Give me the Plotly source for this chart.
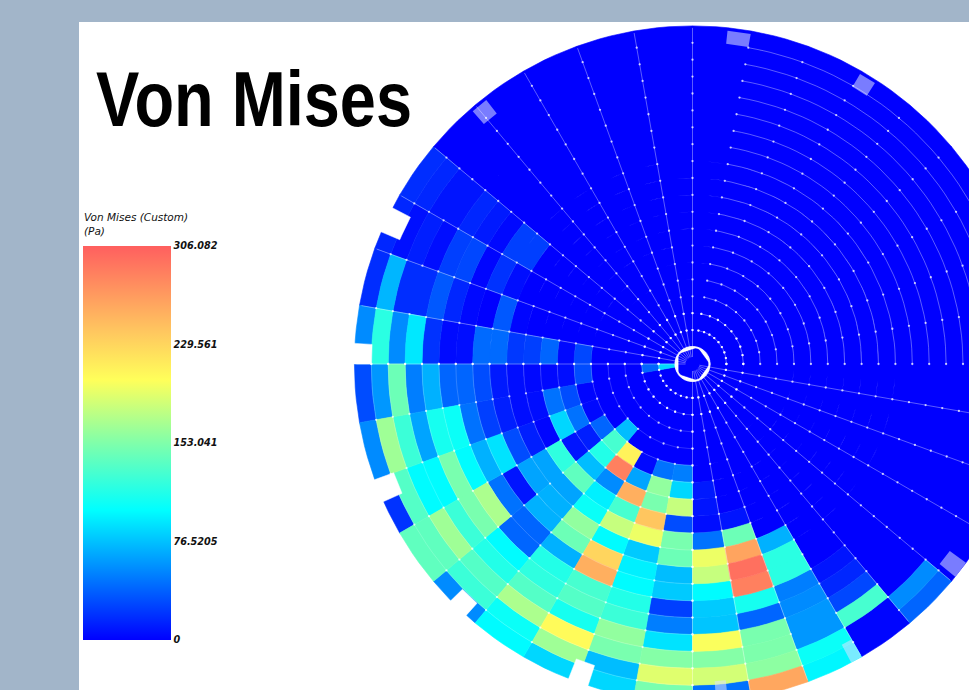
import math
import plotly.graph_objects as go
from plotly.colors import sample_colorscale

TITLE = "Von Mises"
BAR_TITLE = "Von Mises (Custom)<br>(Pa)"
TICK_VALUES = [0, 76.5205, 153.041, 229.561, 306.082]
TICK_LABELS = ["0", "76.5205", "153.041", "229.561", "306.082"]
VMAX = 306.082

COLORSCALE = [
    [0.0, "rgb(0,0,255)"], [0.33, "rgb(0,255,255)"], [0.5, "rgb(128,255,170)"],
    [0.66, "rgb(255,255,90)"], [0.78, "rgb(255,200,95)"], [1.0, "rgb(255,95,95)"],
]

RING_EDGES = [17, 33.9, 50.8, 67.7, 84.6, 101.5, 118.4, 135.3, 152.2, 169.1, 186,
              202.9, 219.8, 236.7, 253.6, 270.5, 287.4, 304.3, 321.2, 338.1]
WEDGE_STEP = 10
BLUE = [0] * 19

# von Mises value of each cell, inner ring to outer ring, by wedge start angle
W140 = [0, 0, 0, 0, 0, 0, 0, 0, 0, 0, 25, 25, 3, 10, 15, 8, 8, 15, 18]
W150 = [0, 0, 0, 0, 0, 0, 0, 0, 0, 0, 5, 20, 2, 28, 25, 5, 12, 6, 15]
W160 = [0, 0, 0, 0, 0, 0, 0, 0, 0, 2, 35, 0, 3, 15, 35, 18, 18, 72, 18]
W170 = [0, 0, 0, 0, 0, 28, 3, 40, 25, 22, 42, 42, 5, 4, 20, 92, 55, 118, 55]
W180 = [85, 40, 0, 0, 0, 30, 5, 3, 3, 5, 10, 30, 40, 40, 70, 50, 145, 60, 30]
W190 = [0, 0, 0, 0, 0, 2, 30, 45, 5, 5, 12, 25, 45, 105, 110, 65, 125, 165, 55]
W200 = [0, 0, 0, 0, 0, 3, 45, 85, 2, 12, 30, 90, 70, 100, 150, 100, 100, 135, 20]
W210 = [0, 0, 0, 0, 0, 40, 12, 8, 120, 65, 65, 8, 45, 170, 150, 125, 165, 140, 140]
W220 = [0, 0, 0, 0, 75, 130, 115, 75, 140, 65, 70, 70, 40, 40, 100, 115, 135, 125, 55]
W230 = [0, 0, 0, 0, 0, 210, 285, 55, 95, 105, 160, 145, 70, 115, 120, 135, 170, 105, 100]
W240 = [0, 0, 0, 0, 0, 3, 65, 255, 130, 180, 100, 230, 255, 130, 135, 110, 205, 165, 85]
W250 = [0, 0, 0, 0, 0, 45, 160, 150, 240, 195, 80, 95, 100, 115, 125, 160, 150, 75, 85]
W260 = [0, 0, 0, 0, 0, 50, 85, 180, 30, 150, 145, 75, 80, 25, 50, 90, 155, 190, 150]
W270 = [0, 0, 0, 0, 0, 0, 10, 8, 5, 45, 195, 180, 100, 80, 78, 200, 155, 185, 45]
W280 = [0, 0, 0, 0, 0, 0, 0, 0, 8, 145, 262, 295, 285, 110, 40, 150, 152, 158, 260]
W290 = [0, 0, 0, 0, 0, 0, 0, 0, 0, 0, 70, 118, 118, 50, 55, 60, 60, 105, 98]
W300 = [0, 0, 0, 0, 0, 0, 0, 0, 0, 0, 0, 0, 0, 8, 15, 28, 130, 2, 2]
W310 = [0, 0, 0, 0, 0, 0, 0, 0, 0, 0, 0, 0, 0, 0, 0, 0, 0, 55, 40]

WEDGES = {
    140: W140, 150: W150, 160: W160, 170: W170, 180: W180, 190: W190, 200: W200,
    210: W210, 220: W220, 230: W230, 240: W240, 250: W250, 260: W260, 270: W270,
    280: W280, 290: W290, 300: W300, 310: W310,
}

# gaps in the rim: solid ones reach past the edge, pale ones are a dithered patch
NOTCH_START = [200, 224.4, 248.5, 152.5, 176.5]
NOTCH_END = [204, 228, 252, 157, 180]
NOTCH_INNER = [318, 322, 317, 318, 321]
PATCH_START = [274, 298, 321, 57, 80, 128]
PATCH_END = [276, 300, 324, 60, 84, 131]
PATCH_INNER = [318, 318, 318, 320, 322, 318]
PATCH_OUTER = [338, 338, 338, 335, 335, 335]

# which white mesh lines show
SPOKES_SHOWN = [90, 100, 110, 120, 130, 140, 150, 160, 170, 180,
                270, 280, 290, 300, 310, 320, 330, 340, 350]
RING_ARCS_STRONG = [(0, 80)]
RING_ARCS_FAINT = [(180, 270)]

X0, Y0 = 692.5, 364.0
W, H = 969, 690


def pol(r, t):
    a = math.radians(t)
    return r * math.cos(a), r * math.sin(a)


def sector(t0, t1, r0, r1):
    n = 5
    ts = [t0 + (t1 - t0) * i / n for i in range(n + 1)]
    pts = [pol(r1, t) for t in ts] + [pol(r0, t) for t in reversed(ts)]
    pts.append(pts[0])
    return pts


def poly_trace(polys, col, lw=0.6, linecol=None):
    xs, ys = [], []
    for p in polys:
        xs += [q[0] for q in p] + [None]
        ys += [q[1] for q in p] + [None]
    return go.Scatter(x=xs, y=ys, mode="lines", fill="toself", fillcolor=col,
                      line=dict(color=linecol or col, width=lw), hoverinfo="skip", showlegend=False)


def arcs(spans):
    xs, ys = [], []
    for a, b in spans:
        for r in RING_EDGES[1:-1]:
            for t in range(a, b + 1, 2):
                q = pol(r, t); xs.append(q[0]); ys.append(q[1])
            xs.append(None); ys.append(None)
    return xs, ys


groups = {}
for start in range(0, 360, WEDGE_STEP):
    vals = WEDGES.get(start, BLUE)
    for k, v in enumerate(vals):
        groups.setdefault(v, []).append(sector(start, start + WEDGE_STEP, RING_EDGES[k], RING_EDGES[k + 1]))
groups.setdefault(0, []).append(sector(0, 360, 0, RING_EDGES[0]))

fig = go.Figure()
for v, polys in sorted(groups.items()):
    fig.add_trace(poly_trace(polys, sample_colorscale(COLORSCALE, [v / VMAX])[0]))

fig.add_trace(poly_trace([sector(a, b, r, 346) for a, b, r in zip(NOTCH_START, NOTCH_END, NOTCH_INNER)],
                         "white", 0.5, "white"))
fig.add_trace(poly_trace([sector(a, b, r, o) for a, b, r, o in zip(PATCH_START, PATCH_END, PATCH_INNER, PATCH_OUTER)],
                         "rgba(220,225,255,0.55)", 0.1, "rgba(220,225,255,0.2)"))

# mesh lines
sx, sy, dx, dy = [], [], [], []
for t in SPOKES_SHOWN:
    for q in (pol(7, t), pol(RING_EDGES[-1] - 2, t)):
        sx.append(q[0]); sy.append(q[1])
    sx.append(None); sy.append(None)
    for r in RING_EDGES[1:-1]:
        q = pol(r, t); dx.append(q[0]); dy.append(q[1])
for a, b in RING_ARCS_STRONG + RING_ARCS_FAINT:
    for r in RING_EDGES[1:-1]:
        for t in range(a, b + 1, WEDGE_STEP):
            q = pol(r, t); dx.append(q[0]); dy.append(q[1])
for r in RING_EDGES[1:3]:
    for t in range(0, 361, 10):
        q = pol(r, t); dx.append(q[0]); dy.append(q[1])

ax, ay = arcs(RING_ARCS_STRONG)
fx, fy = arcs(RING_ARCS_FAINT)
fig.add_trace(go.Scatter(x=fx, y=fy, mode="lines", line=dict(color="rgba(255,255,255,0.3)", width=0.6),
                         hoverinfo="skip", showlegend=False))
fig.add_trace(go.Scatter(x=ax + sx, y=ay + sy, mode="lines",
                         line=dict(color="rgba(255,255,255,0.45)", width=0.8),
                         hoverinfo="skip", showlegend=False))
fig.add_trace(go.Scatter(x=dx, y=dy, mode="markers",
                         marker=dict(color="rgba(255,255,255,0.75)", size=2.3, line=dict(width=0)),
                         hoverinfo="skip", showlegend=False))
cx = [pol(RING_EDGES[0], t)[0] for t in range(0, 361, 5)]
cy = [pol(RING_EDGES[0], t)[1] for t in range(0, 361, 5)]
fig.add_trace(go.Scatter(x=cx, y=cy, mode="lines+markers", line=dict(color="rgba(255,255,255,0.6)", width=1),
                         marker=dict(color="rgba(255,255,255,0.9)", size=2.2, line=dict(width=0)),
                         hoverinfo="skip", showlegend=False))

# colour bar
fig.add_trace(go.Scatter(
    x=[None], y=[None], mode="markers", showlegend=False, hoverinfo="skip",
    marker=dict(color=[0], cmin=0, cmax=VMAX, colorscale=COLORSCALE, showscale=True,
                colorbar=dict(
                    thickness=88, thicknessmode="pixels", len=394, lenmode="pixels",
                    x=83 / W, xanchor="left", xpad=0, y=(H - 640) / H, yanchor="bottom", ypad=0,
                    outlinewidth=0, ticks="", ticklen=0, tickmode="array",
                    tickvals=TICK_VALUES, ticktext=TICK_LABELS,
                    tickfont=dict(family="DejaVu Sans", size=9.7, style="italic", color="#111111", weight=600),
                ))))

fig.update_layout(
    width=W, height=H, margin=dict(l=0, r=0, t=0, b=0, pad=0), autosize=False,
    paper_bgcolor="#A2B5C9", plot_bgcolor="rgba(0,0,0,0)",
    xaxis=dict(visible=False, range=[-X0, W - X0], fixedrange=True),
    yaxis=dict(visible=False, range=[-(H - Y0), Y0], fixedrange=True),
    shapes=[dict(type="rect", xref="paper", yref="paper", x0=79 / W, x1=1, y0=0, y1=1 - 22 / H,
                 fillcolor="white", line=dict(width=0), layer="below")],
    annotations=[
        dict(text=TITLE, xref="paper", yref="paper", x=253.5 / W, y=1 - 99 / H, xanchor="center", yanchor="middle",
             showarrow=False, font=dict(family="Liberation Sans", size=78, color="black", weight="bold")),
        dict(text=BAR_TITLE, xref="paper", yref="paper", x=82 / W, y=1 - 224 / H, xanchor="left", yanchor="middle",
             align="left", showarrow=False,
             font=dict(family="DejaVu Sans", size=10.5, style="italic", color="#111111", weight=500)),
    ],
)
POST = """
document.body.style.margin = '0';
document.documentElement.style.overflow = 'hidden';
var t = document.querySelector('.annotation-text');
if (t) { t.setAttribute('textLength', '316'); t.setAttribute('lengthAdjust', 'spacingAndGlyphs'); }
"""
fig.write_html("out.html", post_script=POST, config=dict(displayModeBar=False))
